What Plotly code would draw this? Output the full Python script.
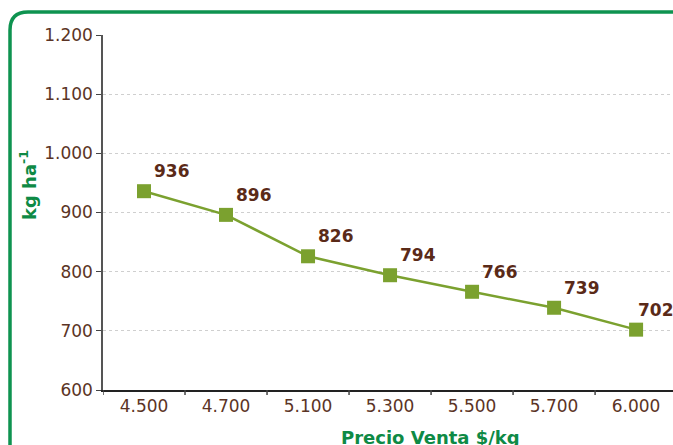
import plotly.graph_objects as go

categories = ["4.500", "4.700", "5.100", "5.300", "5.500", "5.700", "6.000"]
values = [936, 896, 826, 794, 766, 739, 702]
y_ticks = [600, 700, 800, 900, 1000, 1100, 1200]
y_tick_labels = ["600", "700", "800", "900", "1.000", "1.100", "1.200"]

GREEN_LINE = "#7BA12F"
BROWN = "#5B3425"
LABEL_BROWN = "#5A2A18"
TITLE_GREEN = "#0E8A45"
FONT = "'DejaVu Sans', sans-serif"

positions = list(range(len(categories)))

fig = go.Figure()
fig.add_trace(go.Scatter(
    x=positions, y=values, mode="lines+markers",
    line=dict(color=GREEN_LINE, width=2.5),
    marker=dict(symbol="square", size=14, color=GREEN_LINE),
    cliponaxis=False, showlegend=False,
))

for i, v in zip(positions, values):
    fig.add_annotation(x=i, y=v, text=f"<b>{v}</b>", showarrow=False,
                       xshift=28 if i < len(positions) - 1 else 20, yshift=20,
                       font=dict(family=FONT, size=17, color=LABEL_BROWN))

fig.update_xaxes(
    range=[-0.5, 6.45], tickvals=positions, ticktext=categories,
    showline=True, linecolor="#222222", linewidth=1.5,
    ticks="", automargin=False,
    tickfont=dict(family=FONT, size=17, color=BROWN),
    showgrid=False, zeroline=False,
)
# boundary tick marks between categories
for b in [p - 0.5 for p in positions] + [positions[-1] + 0.5]:
    fig.add_shape(type="line", xref="x", yref="paper", x0=b, x1=b, y0=0, y1=-5 / 355,
                  line=dict(color="#444444", width=1.5))

fig.update_yaxes(
    range=[600, 1200], tickvals=y_ticks, ticktext=y_tick_labels,
    showline=True, linecolor="#555555", linewidth=1.5,
    ticks="outside", ticklen=5, tickcolor="#444444", automargin=False,
    tickfont=dict(family=FONT, size=17, color=BROWN),
    showgrid=True, gridcolor="#cfcfcf", griddash="dot", gridwidth=1,
    zeroline=False,
)

# helpers: pixel positions -> paper coords (plot area spans 103..673, 35..390)
def px_x(p):
    return (p - 103) / 570
def px_y(p):
    return (390 - p) / 355

# axis titles
fig.add_annotation(xref="paper", yref="paper", x=px_x(430), y=px_y(437),
                   text="<b>Precio Venta $/kg</b>", showarrow=False,
                   font=dict(family=FONT, size=18, color=TITLE_GREEN),
                   xanchor="center", yanchor="middle")
fig.add_annotation(xref="paper", yref="paper", x=px_x(28), y=px_y(185),
                   text="<b>kg ha<sup>-1</sup></b>", showarrow=False, textangle=-90,
                   font=dict(family=FONT, size=18, color=TITLE_GREEN),
                   xanchor="center", yanchor="middle")

# rounded green frame
x0, yt, r = 10, 12, 18
path = (f"M {px_x(x0)},{px_y(460)} L {px_x(x0)},{px_y(yt + r)} "
        f"Q {px_x(x0)},{px_y(yt)} {px_x(x0 + r)},{px_y(yt)} L {px_x(700)},{px_y(yt)}")
fig.add_shape(type="path", xref="paper", yref="paper", path=path,
              line=dict(color="#0E9350", width=3.5))

fig.update_layout(
    width=673, height=445,
    margin=dict(l=103, r=0, t=35, b=55),
    paper_bgcolor="white", plot_bgcolor="white",
    font=dict(family=FONT),
)
fig.write_html("out.html", config={"displayModeBar": False},
               post_script="document.body.style.margin='0';document.body.style.overflow='hidden';")
